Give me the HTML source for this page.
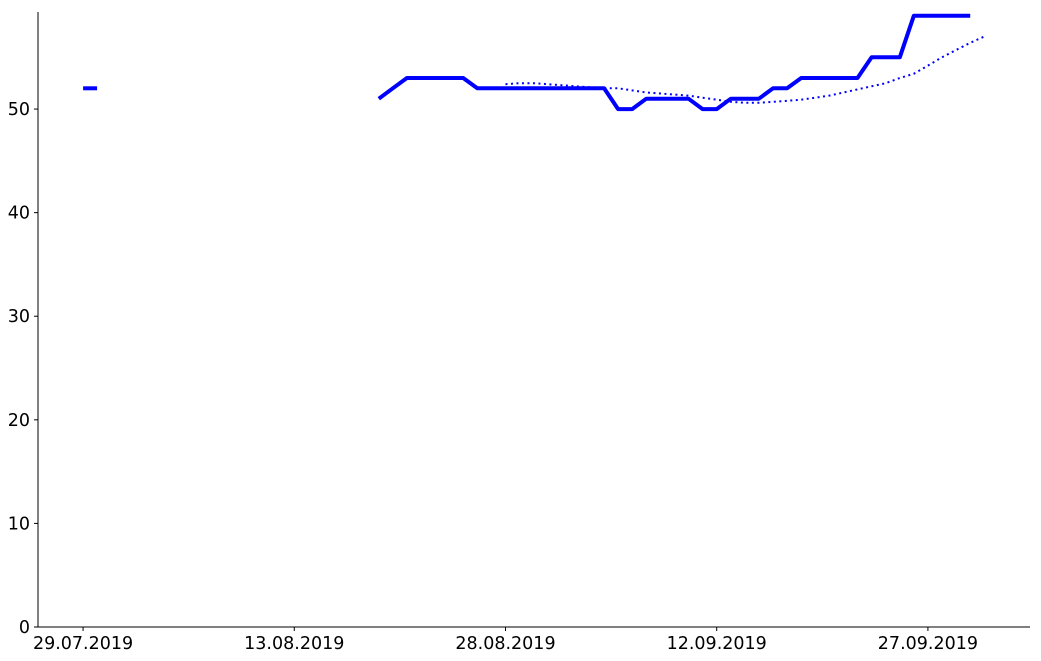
<!DOCTYPE html>
<html><head><meta charset="utf-8"><style>
body{margin:0;background:#fff}
svg{display:block}
text{font-family:"DejaVu Sans","Liberation Sans",sans-serif;font-size:17.5px;fill:#000}
</style></head><body>
<svg id="chart" width="1041" height="661"></svg>
<script>
const xTickLabels=["29.07.2019","13.08.2019","28.08.2019","12.09.2019","27.09.2019"];
const xTickDays=[0,15,30,45,60];
const yTicks=[0,10,20,30,40,50];
const actualDays=[0,1,null,21,22,23,24,25,26,27,28,29,30,31,32,33,34,35,36,37,38,39,40,41,42,43,44,45,46,47,48,49,50,51,52,53,54,55,56,57,58,59,60,61,62,63];
const actualValues=[52,52,null,51,52,53,53,53,53,53,52,52,52,52,52,52,52,52,52,52,50,50,51,51,51,51,50,50,51,51,51,52,52,53,53,53,53,53,55,55,55,59,59,59,59,59];
const trendDays=[30,31,32,33,34,35,36,37,38,39,40,41,42,43,44,45,46,47,48,49,50,51,52,53,54,55,56,57,58,59,60,61,62,63,64];
const trendValues=[52.4,52.5,52.5,52.4,52.3,52.2,52.1,52.0,52.0,51.8,51.6,51.5,51.4,51.3,51.1,50.9,50.7,50.6,50.6,50.7,50.8,50.9,51.1,51.3,51.6,51.9,52.2,52.5,53.0,53.4,54.2,55.0,55.7,56.4,57.0];

const svg=document.getElementById('chart');
const NS='http://www.w3.org/2000/svg';
const X0=38,X1=1030,Y0=627,Y1=12;
const xMin=-3.2,xMax=67.25,yMin=0,yMax=59.37;
const xs=d=>X0+(d-xMin)/(xMax-xMin)*(X1-X0);
const ys=v=>Y0-(v-yMin)/(yMax-yMin)*(Y0-Y1);
function mk(t,a){const e=document.createElementNS(NS,t);for(const k in a)e.setAttribute(k,a[k]);svg.appendChild(e);return e;}

let ax=mk('line',{x1:X0,y1:Y1,x2:X0,y2:Y0,stroke:'#000','stroke-width':1});


let bx=mk('line',{x1:X0,y1:Y0,x2:X1,y2:Y0,stroke:'#000','stroke-width':1});



yTicks.forEach(v=>{
  const y=ys(v);
  mk('line',{x1:X0-4,y1:y,x2:X0,y2:y,stroke:'#000'});
  const t=mk('text',{x:X0-8,y:y+6,'text-anchor':'end'});t.textContent=v;
  
  
});
xTickDays.forEach((d,i)=>{
  const x=xs(d);
  mk('line',{x1:x,y1:Y0,x2:x,y2:Y0+4,stroke:'#000'});
  const t=mk('text',{x:x,y:Y0+22,'text-anchor':'middle'});t.textContent=xTickLabels[i];
  
  
});

let segs=[],cur=[];
actualDays.forEach((d,i)=>{
  if(d===null||actualValues[i]===null){if(cur.length)segs.push(cur);cur=[];}
  else cur.push(xs(d).toFixed(1)+','+ys(actualValues[i]).toFixed(1));
});
if(cur.length)segs.push(cur);
segs.forEach(s=>{
  const p=mk('polyline',{points:s.join(' '),fill:'none',stroke:'#0000ff','stroke-width':4,'stroke-linejoin':'round'});
  
  
});
const tp=mk('polyline',{points:trendDays.map((d,i)=>xs(d).toFixed(1)+','+ys(trendValues[i]).toFixed(1)).join(' '),fill:'none',stroke:'#0000ff','stroke-width':2,'stroke-dasharray':'2,3.5'});


</script>
</body></html>
